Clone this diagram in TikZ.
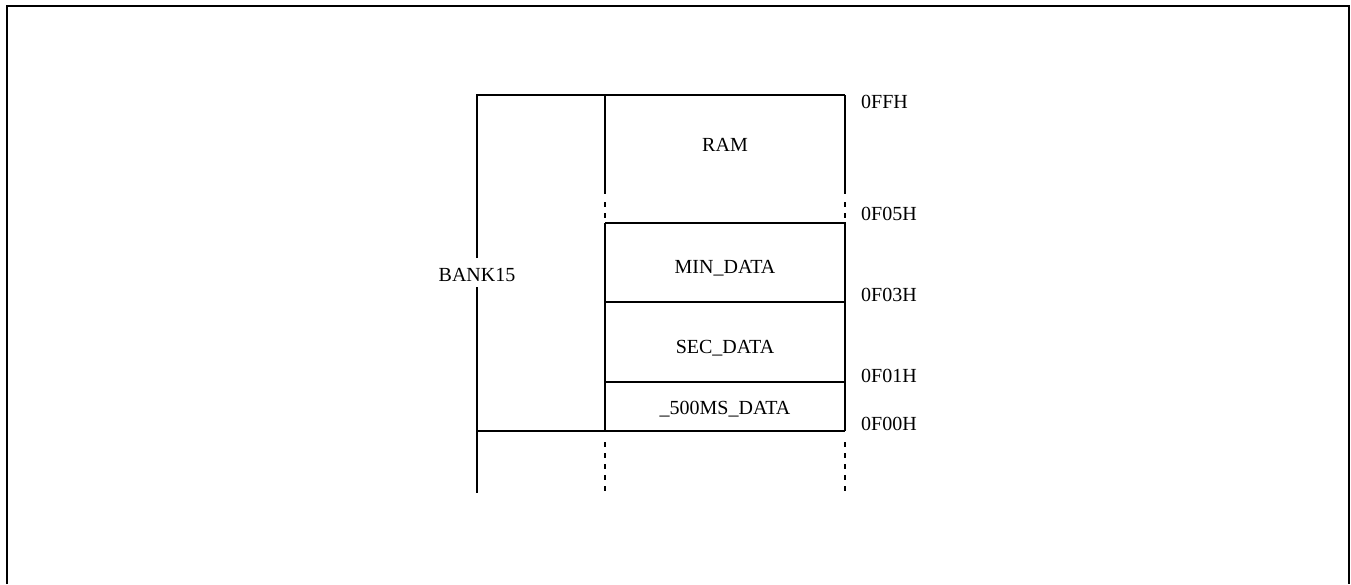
\documentclass[tikz,border=0pt]{standalone}
\usepackage{fontspec}
\setmainfont{Liberation Serif}
\begin{document}
\begin{tikzpicture}[x=1pt,y=-1pt,
  wall/.style={line width=1.4pt},
  gap/.style={line width=1.4pt,dash pattern=on 4.5pt off 6.5pt},
  lbl/.style={font=\fontsize{20}{24}\selectfont,inner sep=0pt,anchor=base},
  addr/.style={lbl,anchor=base west}]
\useasboundingbox (0,0) rectangle (1351,584);
% outer frame (open at the bottom)
\draw[line width=2pt] (7,584) -- (7,6) -- (1349,6) -- (1349,584);
% labels
\node[lbl] (ram) at (725,151) {RAM};
\node[lbl] (min) at (725,273) {MIN\_DATA};
\node[lbl] (sec) at (725,353) {SEC\_DATA};
\node[lbl] (ms) at (725,414) {\_500MS\_DATA};
\node[lbl] (bank) at (477,281) {BANK15};
\node[addr] (a0ffh) at (861,108) {0FFH};
\node[addr] (a0f05) at (861,220) {0F05H};
\node[addr] (a0f03) at (861,301) {0F03H};
\node[addr] (a0f01) at (861,382) {0F01H};
\node[addr] (a0f00) at (861,430) {0F00H};
% bank column, interrupted by its label
\draw[wall] (477,258) -- (477,95) -- (845,95);
\draw[wall] (477,287) -- (477,493);
\draw[wall] (477,431) -- (845,431);
% memory column edges
\draw[wall] (605,95) -- (605,194);
\draw[wall] (845,95) -- (845,194);
\draw[gap] (605,202) -- (605,222);
\draw[gap] (845,202) -- (845,222);
\draw[wall] (605,223) -- (845,223) -- (845,431);
\draw[wall] (605,223) -- (605,431);
\draw[line width=2pt] (605,302) -- (845,302);
\draw[wall] (605,382) -- (845,382);
\draw[gap] (605,442) -- (605,493);
\draw[gap] (845,442) -- (845,493);
\end{tikzpicture}
\end{document}
